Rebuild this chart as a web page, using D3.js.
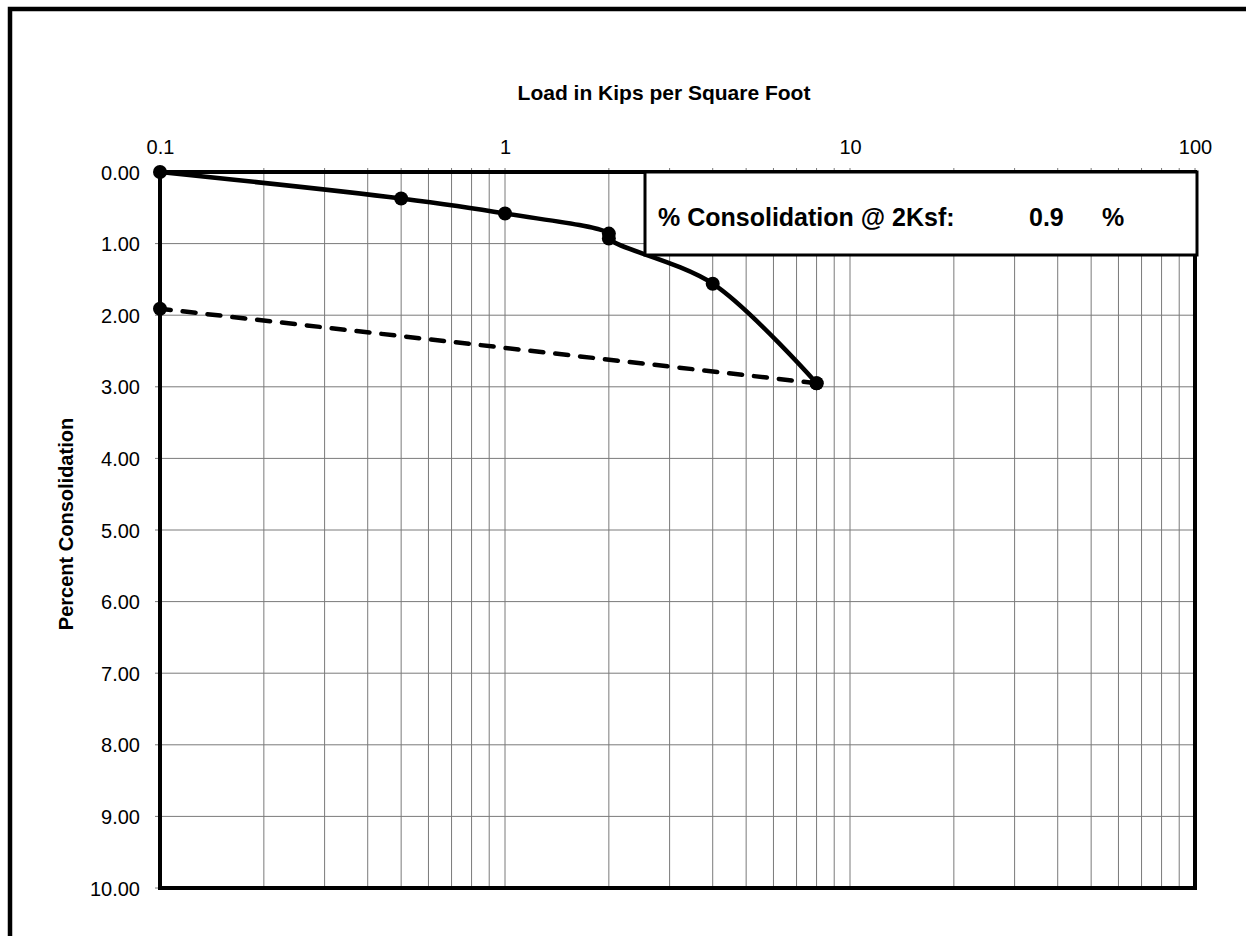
<!DOCTYPE html>
<html>
<head>
<meta charset="utf-8">
<script src="https://cdn.jsdelivr.net/npm/d3@7"></script>
<style>
  body { margin: 0; background: #fff; }
  svg { display: block; font-family: Arial, "Liberation Sans", sans-serif; }
</style>
</head>
<body>
<svg id="chart" width="1246" height="936"></svg>
<script>
// consolidation test: load curve + rebound
const loadKsf = [0.1, 0.5, 1, 2, 2, 4, 8];
const consolidation = [0, 0.37, 0.58, 0.86, 0.93, 1.56, 2.95];
const reboundLoad = [8, 0.1];
const reboundConsol = [2.95, 1.91];

const xTickLabels = [0.1, 1, 10, 100];
const yTickLabels = [0, 1, 2, 3, 4, 5, 6, 7, 8, 9, 10];

const consolAt2 = "0.9";

const margin = { top: 172, left: 160 };
const innerWidth = 1195 - margin.left;
const innerHeight = 888 - margin.top;

const svg = d3.select("#chart");

// outer frame (runs off the right/bottom like the original)
svg.append("path")
  .attr("d", "M10,936 L10,9 L1246,9")
  .attr("fill", "none")
  .attr("stroke", "#000")
  .attr("stroke-width", 4.5);

const g = svg.append("g")
  .attr("transform", `translate(${margin.left},${margin.top})`);

const xScale = d3.scaleLog().domain([0.1, 100]).range([0, innerWidth]);
const yScale = d3.scaleLinear().domain([0, 10]).range([0, innerHeight]);

// every 1..9 per decade for the log grid
const minorTicks = [];
[0.1, 1, 10].forEach(dec => {
  for (let k = 1; k <= 9; k++) minorTicks.push(+(dec * k).toPrecision(3));
});
minorTicks.push(100);

// grid lines
g.append("g")
  .selectAll("line")
  .data(minorTicks)
  .join("line")
  .attr("x1", d => xScale(d)).attr("x2", d => xScale(d))
  .attr("y1", -4).attr("y2", innerHeight)
  .attr("stroke", "#7a7a7a")
  .attr("stroke-width", 1);

g.append("g")
  .selectAll("line")
  .data(yTickLabels)
  .join("line")
  .attr("x1", -5).attr("x2", innerWidth)
  .attr("y1", d => yScale(d)).attr("y2", d => yScale(d))
  .attr("stroke", "#7a7a7a")
  .attr("stroke-width", 1);

// axes (labels only, lines drawn by the frame)
const xAxis = g.append("g")
  .call(d3.axisTop(xScale).tickValues(xTickLabels).tickSize(0).tickPadding(18)
    .tickFormat(d => d));
const yAxis = g.append("g")
  .call(d3.axisLeft(yScale).tickValues(yTickLabels).tickSize(0).tickPadding(20)
    .tickFormat(d3.format(".2f")));

[xAxis, yAxis].forEach(a => {
  a.select(".domain").remove();
  a.selectAll("text")
    .style("font-family", "Arial, 'Liberation Sans', sans-serif")
    .style("font-size", "20px")
    .attr("fill", "#000");
});
yAxis.selectAll("text").attr("dy", "0.35em");
xAxis.selectAll("text").attr("dy", "0");

// plot border
g.append("rect")
  .attr("width", innerWidth).attr("height", innerHeight)
  .attr("fill", "none")
  .attr("stroke", "#000")
  .attr("stroke-width", 4);

// loading curve (smoothed)
const pts = loadKsf.map((d, i) => [d, consolidation[i]]);
const line = d3.line()
  .x(d => xScale(d[0]))
  .y(d => yScale(d[1]))
  .curve(d3.curveCatmullRom.alpha(0.5));

g.append("path")
  .attr("d", line(pts))
  .attr("fill", "none")
  .attr("stroke", "#000")
  .attr("stroke-width", 4.5)
  .attr("stroke-linejoin", "round");

// rebound line (dashed)
const rPts = reboundLoad.map((d, i) => [d, reboundConsol[i]]);
g.append("path")
  .attr("d", d3.line().x(d => xScale(d[0])).y(d => yScale(d[1]))(rPts))
  .attr("fill", "none")
  .attr("stroke", "#000")
  .attr("stroke-width", 4.5)
  .attr("stroke-dasharray", "13,12")
  .attr("stroke-linecap", "round");

g.append("g")
  .selectAll("circle")
  .data(pts.concat(rPts))
  .join("circle")
  .attr("cx", d => xScale(d[0]))
  .attr("cy", d => yScale(d[1]))
  .attr("r", 7)
  .attr("fill", "#000");

// result box
const box = g.append("g").attr("transform", `translate(${645 - margin.left},0)`);
box.append("rect")
  .attr("width", 1197 - 645).attr("height", 83)
  .attr("fill", "#fff")
  .attr("stroke", "#000")
  .attr("stroke-width", 3);
box.append("text")
  .attr("x", 13).attr("y", 54)
  .style("font-size", "25px").style("font-weight", "bold")
  .text("% Consolidation @ 2Ksf:");
box.append("text")
  .attr("x", 384).attr("y", 54)
  .style("font-size", "25px").style("font-weight", "bold")
  .text(consolAt2);
box.append("text")
  .attr("x", 457).attr("y", 54)
  .style("font-size", "25px").style("font-weight", "bold")
  .text("%");

// titles
svg.append("text")
  .attr("x", 664).attr("y", 100)
  .attr("text-anchor", "middle")
  .style("font-size", "21px").style("font-weight", "bold")
  .text("Load in Kips per Square Foot");

svg.append("text")
  .attr("transform", "translate(73,524) rotate(-90)")
  .attr("text-anchor", "middle")
  .style("font-size", "20px").style("font-weight", "bold")
  .text("Percent Consolidation");
</script>
</body>
</html>
